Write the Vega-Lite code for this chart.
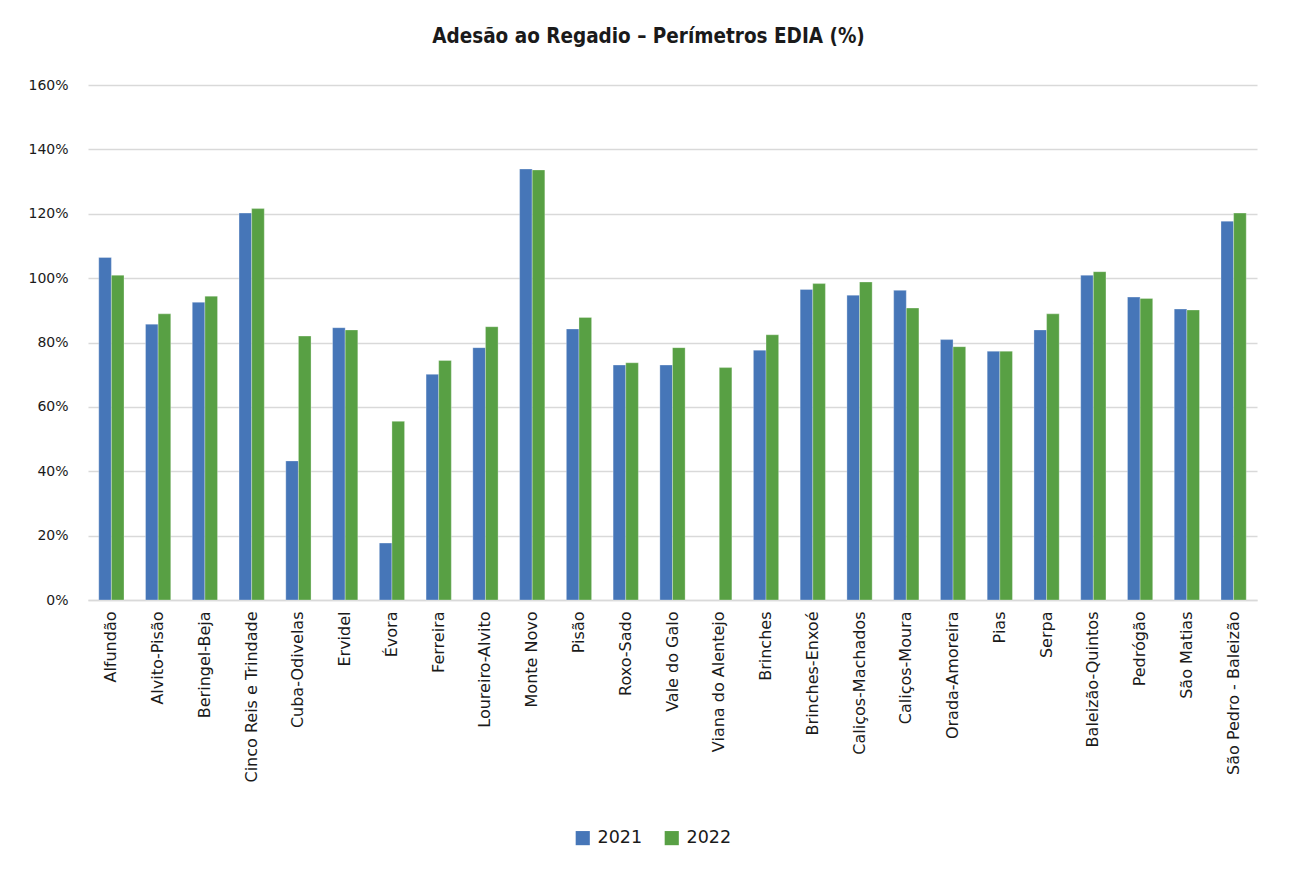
{
  "$schema": "https://vega.github.io/schema/vega-lite/v6.json",
  "width": 1169,
  "height": 515,
  "autosize": {"type": "none"},
  "padding": {"left": 88, "top": 85, "right": 33, "bottom": 271},
  "background": "white",
  "title": {
    "text": "Adesão ao Regadio – Perímetros EDIA (%)",
    "font": "DejaVu Sans Condensed, Liberation Sans Narrow, sans-serif",
    "fontSize": 20.5,
    "fontWeight": "bold",
    "color": "#1a1a1a",
    "anchor": "middle",
    "dx": -24,
    "offset": 31
  },
  "data": {
    "values": [
      {"perimetro": "Alfundão", "ano": "2021", "adesao": 106.4},
      {"perimetro": "Alfundão", "ano": "2022", "adesao": 100.9},
      {"perimetro": "Alvito-Pisão", "ano": "2021", "adesao": 85.7},
      {"perimetro": "Alvito-Pisão", "ano": "2022", "adesao": 88.9},
      {"perimetro": "Beringel-Beja", "ano": "2021", "adesao": 92.5},
      {"perimetro": "Beringel-Beja", "ano": "2022", "adesao": 94.4},
      {"perimetro": "Cinco Reis e Trindade", "ano": "2021", "adesao": 120.2},
      {"perimetro": "Cinco Reis e Trindade", "ano": "2022", "adesao": 121.6},
      {"perimetro": "Cuba-Odivelas", "ano": "2021", "adesao": 43.2},
      {"perimetro": "Cuba-Odivelas", "ano": "2022", "adesao": 82.0},
      {"perimetro": "Ervidel", "ano": "2021", "adesao": 84.6},
      {"perimetro": "Ervidel", "ano": "2022", "adesao": 83.9},
      {"perimetro": "Évora", "ano": "2021", "adesao": 17.7},
      {"perimetro": "Évora", "ano": "2022", "adesao": 55.5},
      {"perimetro": "Ferreira", "ano": "2021", "adesao": 70.1},
      {"perimetro": "Ferreira", "ano": "2022", "adesao": 74.4},
      {"perimetro": "Loureiro-Alvito", "ano": "2021", "adesao": 78.4},
      {"perimetro": "Loureiro-Alvito", "ano": "2022", "adesao": 84.9},
      {"perimetro": "Monte Novo", "ano": "2021", "adesao": 133.9},
      {"perimetro": "Monte Novo", "ano": "2022", "adesao": 133.6},
      {"perimetro": "Pisão", "ano": "2021", "adesao": 84.2},
      {"perimetro": "Pisão", "ano": "2022", "adesao": 87.8},
      {"perimetro": "Roxo-Sado", "ano": "2021", "adesao": 73.0},
      {"perimetro": "Roxo-Sado", "ano": "2022", "adesao": 73.7},
      {"perimetro": "Vale do Galo", "ano": "2021", "adesao": 73.0},
      {"perimetro": "Vale do Galo", "ano": "2022", "adesao": 78.4},
      {"perimetro": "Viana do Alentejo", "ano": "2022", "adesao": 72.2},
      {"perimetro": "Brinches", "ano": "2021", "adesao": 77.6},
      {"perimetro": "Brinches", "ano": "2022", "adesao": 82.4},
      {"perimetro": "Brinches-Enxoé", "ano": "2021", "adesao": 96.5},
      {"perimetro": "Brinches-Enxoé", "ano": "2022", "adesao": 98.3},
      {"perimetro": "Caliços-Machados", "ano": "2021", "adesao": 94.7},
      {"perimetro": "Caliços-Machados", "ano": "2022", "adesao": 98.8},
      {"perimetro": "Caliços-Moura", "ano": "2021", "adesao": 96.2},
      {"perimetro": "Caliços-Moura", "ano": "2022", "adesao": 90.7},
      {"perimetro": "Orada-Amoreira", "ano": "2021", "adesao": 80.9},
      {"perimetro": "Orada-Amoreira", "ano": "2022", "adesao": 78.7},
      {"perimetro": "Pias", "ano": "2021", "adesao": 77.3},
      {"perimetro": "Pias", "ano": "2022", "adesao": 77.3},
      {"perimetro": "Serpa", "ano": "2021", "adesao": 83.9},
      {"perimetro": "Serpa", "ano": "2022", "adesao": 88.9},
      {"perimetro": "Baleizão-Quintos", "ano": "2021", "adesao": 100.9},
      {"perimetro": "Baleizão-Quintos", "ano": "2022", "adesao": 102.0},
      {"perimetro": "Pedrógão", "ano": "2021", "adesao": 94.1},
      {"perimetro": "Pedrógão", "ano": "2022", "adesao": 93.7},
      {"perimetro": "São Matias", "ano": "2021", "adesao": 90.4},
      {"perimetro": "São Matias", "ano": "2022", "adesao": 90.1},
      {"perimetro": "São Pedro - Baleizão", "ano": "2021", "adesao": 117.7},
      {"perimetro": "São Pedro - Baleizão", "ano": "2022", "adesao": 120.2}
    ]
  },
  "mark": {"type": "bar", "stroke": "white", "strokeWidth": 0.5, "strokeOpacity": 0.6},
  "encoding": {
    "x": {
      "field": "perimetro",
      "type": "nominal",
      "sort": null,
      "title": null,
      "scale": {"paddingInner": 0.46, "paddingOuter": 0.23},
      "axis": {
        "labelAngle": -90,
        "labelAlign": "right",
        "labelBaseline": "middle",
        "labelPadding": 11,
        "labelFont": "DejaVu Sans",
        "labelFontSize": 16,
        "labelColor": "#1a1a1a",
        "labelLimit": 300,
        "ticks": false,
        "domainColor": "#d9d9d9",
        "domainWidth": 1.5,
        "grid": false
      }
    },
    "xOffset": {"field": "ano", "type": "nominal", "scale": {"domain": ["2021", "2022"], "paddingInner": 0}},
    "y": {
      "field": "adesao",
      "type": "quantitative",
      "title": null,
      "scale": {"domain": [0, 160], "nice": false},
      "axis": {
        "values": [0, 20, 40, 60, 80, 100, 120, 140, 160],
        "labelExpr": "datum.value + '%'",
        "labelFont": "DejaVu Sans",
        "labelFontSize": 14,
        "labelColor": "#1a1a1a",
        "labelPadding": 20,
        "ticks": false,
        "domain": false,
        "grid": true,
        "gridColor": "#d9d9d9",
        "gridWidth": 1.5
      }
    },
    "color": {
      "field": "ano",
      "type": "nominal",
      "title": null,
      "scale": {"domain": ["2021", "2022"], "range": ["#4676b8", "#58a044"]},
      "legend": {
        "orient": "none",
        "direction": "horizontal",
        "legendX": 486,
        "legendY": 744,
        "symbolType": "square",
        "symbolSize": 200,
        "symbolStrokeWidth": 0,
        "labelFont": "DejaVu Sans",
        "labelFontSize": 17.5,
        "labelColor": "#1a1a1a",
        "labelOffset": 6,
        "columnPadding": 20
      }
    }
  },
  "config": {
    "view": {"stroke": null}
  }
}
